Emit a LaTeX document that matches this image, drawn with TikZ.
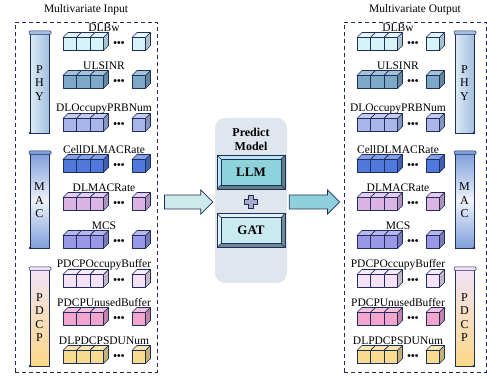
\documentclass[tikz,border=0pt]{standalone}
\usepackage{fontspec}
\setmainfont{Liberation Serif}
\usetikzlibrary{calc, positioning}

\definecolor{edge}{HTML}{1F2D5C}
\definecolor{cDLBw}{HTML}{D6F3F7}
\definecolor{cULSINR}{HTML}{7EA9C6}
\definecolor{cPRB}{HTML}{A9B6EA}
\definecolor{cCell}{HTML}{4F79DC}
\definecolor{cDLMAC}{HTML}{DCB4E4}
\definecolor{cMCS}{HTML}{9A98E6}
\definecolor{cOccupy}{HTML}{F6E2F6}
\definecolor{cUnused}{HTML}{F2A6CC}
\definecolor{cSDU}{HTML}{F8DC8E}
\definecolor{phyA}{HTML}{DCEAF5}
\definecolor{phyB}{HTML}{A3C0DF}
\definecolor{macA}{HTML}{7F9EDB}
\definecolor{macB}{HTML}{EEF2FA}
\definecolor{pdcpA}{HTML}{F1E3F7}
\definecolor{pdcpB}{HTML}{FBD886}
\definecolor{modelbg}{HTML}{DFE6EE}
\definecolor{llmface}{HTML}{8ED3DC}
\definecolor{llmlight}{HTML}{BCE6EC}
\definecolor{llmdark}{HTML}{5D7F86}
\definecolor{gatface}{HTML}{C9EAEE}
\definecolor{gatlight}{HTML}{E2F4F6}
\definecolor{gatdark}{HTML}{6C8C92}
\definecolor{arrowin}{HTML}{CDEAEA}
\definecolor{arrowout}{HTML}{8FD0DA}
\definecolor{plusfill}{HTML}{A9A9CA}

\tikzstyle{panel} = [rectangle, draw=edge, line width=0.9pt, dash pattern=on 4pt off 3pt,
	minimum width=142pt, minimum height=350pt, inner sep=0pt]
\tikzstyle{paneltitle} = [font=\fontsize{11.5}{12}\selectfont]
\tikzstyle{rowlabel} = [font=\fontsize{11.5}{12}\selectfont, inner sep=0pt]
\tikzstyle{cubeline} = [draw=edge, line width=0.6pt, line join=round]
\tikzstyle{barletters} = [align=center, font=\fontsize{12}{13.5}\selectfont, inner sep=0pt]
\tikzstyle{dots} = [font=\fontsize{10.5}{10.5}\selectfont\bfseries, inner sep=0pt]
\tikzstyle{bevelface} = [rectangle, draw=edge, line width=0.6pt, minimum width=60pt,
	minimum height=26pt, font=\fontsize{13}{13}\selectfont\bfseries]

% one cube: x, top of front face, colour
\newcommand{\cubebox}[3]{%
	\filldraw[cubeline, fill=#3!70!white] (#1,#2) -- ++(5,-5) -- ++(13.5,0) -- ++(-5,5) -- cycle;
	\filldraw[cubeline, fill=#3!80!black] (#1+13.5,#2) -- ++(5,-5) -- ++(0,13) -- ++(-5,5) -- cycle;
	\filldraw[cubeline, fill=#3] (#1,#2) rectangle ++(13.5,13);
}
% a row of cubes: name, x0, centre y, colour, text
\newcommand{\cuberow}[5]{%
	\foreach \i in {0,1,2} {\cubebox{#2+13.5*\i}{#3-6.5}{#4}}
	\node (#1dots) [dots] at (#2+56,#3+0.5) {•••};
	\cubebox{#2+69}{#3-6.5}{#4}
	\node (#1) [rowlabel] at (#2+41,#3-16) {#5};
}
% layer bar: name, x, top, bottom, shading, letters, dot offset, cap colour
\newcommand{\layerbar}[8]{%
	\shade[#5] (#2,#3) rectangle (#2+19,#4);
	\draw[draw=edge, line width=0.6pt] (#2,#3) rectangle (#2+19,#4);
	\filldraw[draw=edge, fill=#8, line width=0.5pt, rounded corners=1pt] (#2-1,#3-2) rectangle (#2+21,#3+1.5);
	\fill[edge] (#2+#7,#4) circle (1.4pt);
	\node (#1) [barletters] at (#2+9.5,{(#3+#4)/2}) {#6};
}
% framed button: name, centre, text, face, light, dark
\newcommand{\bevelbox}[6]{%
	\coordinate (#1c) at (#2);
	\fill[#5] ($(#1c)+(-34,-17)$) -- ($(#1c)+(34,-17)$) -- ($(#1c)+(30,-13)$) -- ($(#1c)+(-30,-13)$) -- cycle;
	\fill[#5] ($(#1c)+(-34,-17)$) -- ($(#1c)+(-30,-13)$) -- ($(#1c)+(-30,13)$) -- ($(#1c)+(-34,17)$) -- cycle;
	\fill[#6] ($(#1c)+(34,-17)$) -- ($(#1c)+(34,17)$) -- ($(#1c)+(30,13)$) -- ($(#1c)+(30,-13)$) -- cycle;
	\fill[#6] ($(#1c)+(-34,17)$) -- ($(#1c)+(34,17)$) -- ($(#1c)+(30,13)$) -- ($(#1c)+(-30,13)$) -- cycle;
	\draw[draw=edge, line width=0.8pt] ($(#1c)+(-34,-17)$) rectangle ($(#1c)+(34,17)$);
	\draw[draw=edge, line width=0.4pt] ($(#1c)+(-34,-17)$) -- ($(#1c)+(-30,-13)$)
		($(#1c)+(34,-17)$) -- ($(#1c)+(30,-13)$) ($(#1c)+(-34,17)$) -- ($(#1c)+(-30,13)$)
		($(#1c)+(34,17)$) -- ($(#1c)+(30,13)$);
	\node (#1) [bevelface, fill=#4] at (#1c) {#3};
}
% block arrow from start to tip
\newcommand{\blockarrow}[3]{%
	\filldraw[draw=edge, line width=0.7pt, fill=#3, line join=miter] ($(#1)+(0,-7)$) -- ($(#2)+(-12,-7)$)
		-- ($(#2)+(-12,-12)$) -- (#2) -- ($(#2)+(-12,12)$) -- ($(#2)+(-12,7)$) -- ($(#1)+(0,7)$) -- cycle;
}

\begin{document}
\begin{tikzpicture}[x=1pt, y=-1pt]
	\useasboundingbox (0,0) rectangle (487,379);

	% panels
	\node (inbox) [panel] at (86,197) {};
	\node (outbox) [panel] at (415,197) {};
	\node (intitle) [paneltitle] at (86,10) {Multivariate Input};
	\node (outtitle) [paneltitle] at (415,10) {Multivariate Output};

	% layer bars
	\layerbar{inPHY}{30}{33}{133}{left color=phyA, right color=phyB}{P\\H\\Y}{0}{phyB}
	\layerbar{inMAC}{30}{153}{248}{top color=macA, bottom color=macA, middle color=macB}{M\\A\\C}{0}{macA}
	\layerbar{inPDCP}{30}{269}{366}{top color=pdcpA, bottom color=pdcpB}{P\\D\\C\\P}{0}{pdcpA}
	\layerbar{outPHY}{455}{33}{133}{left color=phyA, right color=phyB}{P\\H\\Y}{19}{phyB}
	\layerbar{outMAC}{455}{153}{248}{top color=macA, bottom color=macA, middle color=macB}{M\\A\\C}{19}{macA}
	\layerbar{outPDCP}{455}{269}{366}{top color=pdcpA, bottom color=pdcpB}{P\\D\\C\\P}{19}{pdcpA}

	% rows of cubes
	\foreach \nm/\yc/\col in {DLBw/44/cDLBw, ULSINR/82/cULSINR, DLOccupyPRBNum/125/cPRB,
		CellDLMACRate/166/cCell, DLMACRate/204/cDLMAC, MCS/242/cMCS,
		PDCPOccupyBuffer/281/cOccupy, PDCPUnusedBuffer/319/cUnused, DLPDCPSDUNum/357/cSDU} {
		\cuberow{in\nm}{63}{\yc}{\col}{\nm}
		\cuberow{out\nm}{357}{\yc}{\col}{\nm}
	}

	% predict model
	\node (model) [rectangle, rounded corners=10pt, fill=modelbg, minimum width=72pt,
		minimum height=165pt] at (251,200.5) {};
	\node (modeltitle) [font=\fontsize{12}{14}\selectfont\bfseries, align=center] at (251,139) {Predict\\Model};
	\bevelbox{LLM}{251,172}{LLM}{llmface}{llmlight}{llmdark}
	\bevelbox{GAT}{251,230.5}{GAT}{gatface}{gatlight}{gatdark}
	\coordinate (plusc) at (251,201.5);
	\filldraw[draw=edge, fill=plusfill, line width=0.6pt] ($(plusc)+(-2.5,-6.5)$) -- ($(plusc)+(2.5,-6.5)$)
		-- ($(plusc)+(2.5,-2.5)$) -- ($(plusc)+(6.5,-2.5)$) -- ($(plusc)+(6.5,2.5)$) -- ($(plusc)+(2.5,2.5)$)
		-- ($(plusc)+(2.5,6.5)$) -- ($(plusc)+(-2.5,6.5)$) -- ($(plusc)+(-2.5,2.5)$) -- ($(plusc)+(-6.5,2.5)$)
		-- ($(plusc)+(-6.5,-2.5)$) -- ($(plusc)+(-2.5,-2.5)$) -- cycle;

	% arrows
	\coordinate (inarrS) at ($(inbox.east)+(7,5)$);
	\coordinate (inarrE) at ($(model.west)+(-2,1.5)$);
	\coordinate (outarrS) at ($(model.east)+(2,1.5)$);
	\coordinate (outarrE) at ($(outbox.west)+(-4,5)$);
	\blockarrow{inarrS}{inarrE}{arrowin}
	\blockarrow{outarrS}{outarrE}{arrowout}

\end{tikzpicture}
\end{document}
